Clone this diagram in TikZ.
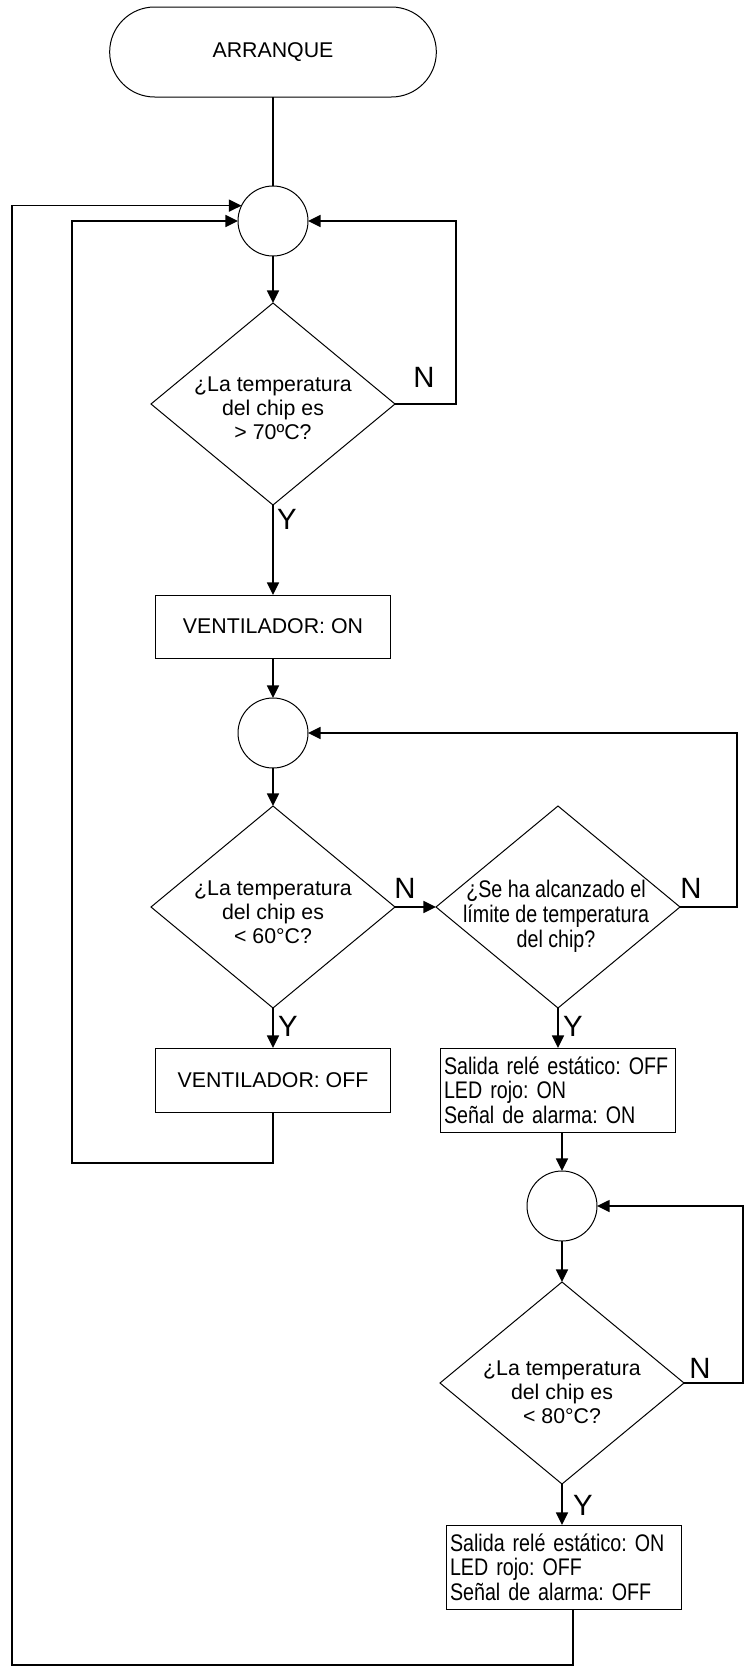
\documentclass[tikz,border=0pt]{standalone}
\usepackage{fontspec}
\setmainfont{Liberation Sans}
\newfontfamily\narrowfont[FakeStretch=0.82]{Liberation Sans}
\usetikzlibrary{arrows.meta,shapes.geometric}
\frenchspacing
\begin{document}
\begin{tikzpicture}[x=0.75pt,y=-0.75pt,
  conn/.style={line width=1.2pt, -{Triangle[length=9.5pt,width=9pt]}},
  plain/.style={line width=0.8pt},
  shp/.style={draw, line width=0.75pt, inner sep=0pt, outer sep=0pt},
  junc/.style={shp, circle, minimum size=52.5pt},
  dia/.style={shp, diamond, minimum width=183pt, minimum height=151.5pt},
  dtext/.style={align=center, font=\fontsize{16}{18}\selectfont, inner sep=0pt},
  ntext/.style={align=center, font=\narrowfont\fontsize{18}{18.7}\selectfont, inner sep=0pt},
  proc/.style={shp, rectangle, minimum width=176pt, font=\fontsize{16}{18}\selectfont},
  lbox/.style={shp, rectangle, align=left, text width=171pt, inner xsep=2.5pt, font=\narrowfont\fontsize{18}{18.3}\selectfont},
  yn/.style={font=\fontsize{22}{22}\selectfont, inner sep=0pt},
]
\useasboundingbox (0,0) rectangle (747,1674);

% nodes
\node[shp, rectangle, rounded corners=33.7pt, minimum width=245pt, minimum height=67.5pt,
      font=\fontsize{16}{18}\selectfont] (start) at (273,52) {ARRANQUE};
\node[junc] (c1) at (273,221) {};
\node[dia] (d1) at (273,404) {};
\node[dtext] (d1t) at (273,408) {¿La temperatura\\del chip es\\> 70ºC?};
\node[proc, minimum height=47.25pt] (b1) at (273,626.5) {VENTILADOR: ON};
\node[junc] (c2) at (273,733) {};
\node[dia] (d2) at (273,907) {};
\node[dtext] (d2t) at (273,912) {¿La temperatura\\del chip es\\< 60°C?};
\node[dia] (d3) at (558,907) {};
\node[ntext] (d3t) at (556,916) {¿Se ha alcanzado el\\límite de temperatura\\del chip?};
\node[proc, minimum height=48pt] (b2) at (273,1080) {VENTILADOR: OFF};
\node[lbox, minimum height=63pt] (b3) at (558,1090) {Salida relé estático: OFF\\LED rojo: ON\\Señal de alarma: ON};
\node[junc] (c3) at (562,1206) {};
\node[dia] (d4) at (562,1383) {};
\node[dtext] (d4t) at (562,1392) {¿La temperatura\\del chip es\\< 80°C?};
\node[lbox, minimum height=63pt] (b4) at (564,1567) {Salida relé estático: ON\\LED rojo: OFF\\Señal de alarma: OFF};

% labels
\node[yn] (n1) at (424,377) {N};
\node[yn] (y1) at (287,519) {Y};
\node[yn] (n2) at (405,888) {N};
\node[yn] (n3) at (691,888) {N};
\node[yn] (y2) at (288,1026) {Y};
\node[yn] (y3) at (573,1026) {Y};
\node[yn] (n4) at (700,1368) {N};
\node[yn] (y4) at (583,1505) {Y};

% helper coordinates
\coordinate (r1) at (456,404);
\coordinate (r2) at (737,907);
\coordinate (r3) at (743,1383);
\coordinate (l2) at (72,1163);
\coordinate (l1) at (12,1665);

% connectors
\draw[plain] (start.south) -- (c1.north);
\draw[conn] (c1.south) -- (d1.north);
\draw[conn] (d1.east) -- (r1) |- (c1.east);
\draw[conn] (d1.south) -- (b1.north);
\draw[conn] (b1.south) -- (c2.north);
\draw[conn] (c2.south) -- (d2.north);
\draw[conn] (d2.east) -- (d3.west);
\draw[conn] (d3.east) -- (r2) |- (c2.east);
\draw[conn] (d2.south) -- (b2.north);
\draw[conn] (d3.south) -- (d3.south |- b3.north);
\draw[conn] (b2.south) |- (l2) |- (c1.west);
\draw[conn] (b3.south -| c3.north) -- (c3.north);
\draw[conn] (c3.south) -- (d4.north);
\draw[conn] (d4.east) -- (r3) |- (c3.east);
\draw[conn] (d4.south) -- (d4.south |- b4.north);
\draw[conn] ([xshift=6.75pt]b4.south) |- (l1) |- (c1.154.6);
\end{tikzpicture}
\end{document}
